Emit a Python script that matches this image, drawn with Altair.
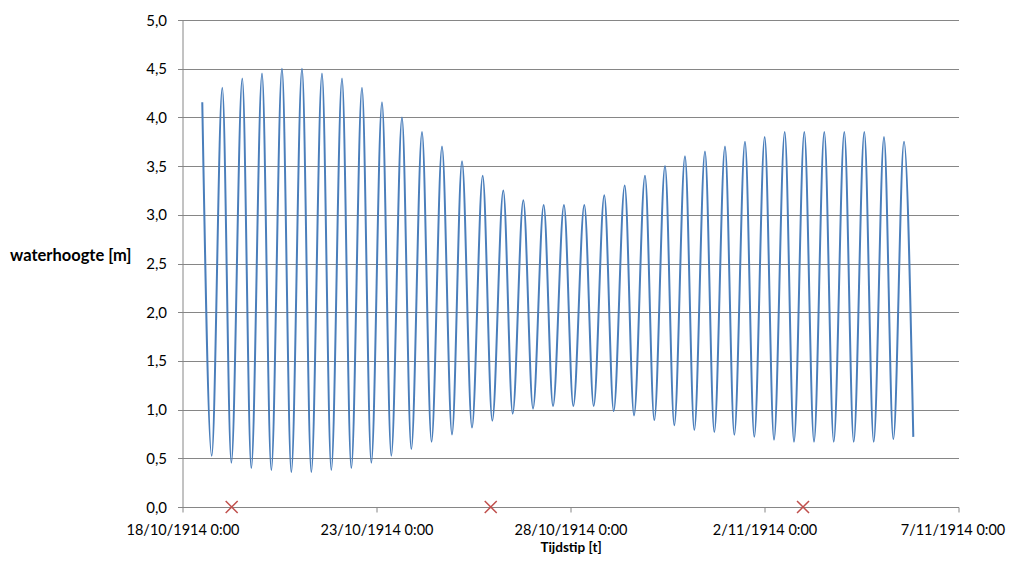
import altair as alt
import pandas as pd

# ---- data ----
base_date = "1914-10-18"

# high-water times (days after 18/10/1914 0:00) and levels [m]
peak_days = [0.510, 1.026, 1.541, 2.049, 2.564, 3.080, 3.595, 4.111, 4.626, 5.142,
             5.657, 6.173, 6.688, 7.204, 7.737, 8.268, 8.784, 9.309, 9.832, 10.356,
             10.871, 11.397, 11.920, 12.436, 12.951, 13.466, 13.982, 14.497, 15.005, 15.521,
             16.026, 16.541, 17.057, 17.572, 18.080, 18.595]
peak_levels = [4.155, 4.305, 4.40, 4.45, 4.50, 4.50, 4.45, 4.40, 4.305, 4.155,
               4.00, 3.85, 3.70, 3.55, 3.40, 3.25, 3.15, 3.10, 3.10, 3.10,
               3.20, 3.30, 3.40, 3.50, 3.60, 3.65, 3.70, 3.75, 3.80, 3.85,
               3.85, 3.85, 3.85, 3.85, 3.80, 3.75]

# low-water times (days after 18/10/1914 0:00) and levels [m]
trough_days = [0.753, 1.258, 1.773, 2.289, 2.804, 3.320, 3.835, 4.351, 4.866, 5.381,
               5.897, 6.418, 6.946, 7.461, 7.985, 8.510, 9.034, 9.549, 10.072, 10.598,
               11.113, 11.637, 12.160, 12.675, 13.191, 13.706, 14.222, 14.737, 15.245, 15.760,
               16.276, 16.784, 17.299, 17.814, 18.320, 18.835]
trough_levels = [0.527, 0.455, 0.40, 0.38, 0.36, 0.36, 0.38, 0.40, 0.455, 0.527,
                 0.595, 0.67, 0.745, 0.815, 0.886, 0.958, 1.01, 1.037, 1.037, 1.037,
                 0.985, 0.94, 0.893, 0.84, 0.79, 0.77, 0.742, 0.72, 0.69, 0.67,
                 0.67, 0.67, 0.67, 0.67, 0.695, 0.72]

# red cross markers on the time axis
marker_times = ["1914-10-19T06:25:00", "1914-10-25T22:40:00", "1914-11-02T23:50:00"]
marker_levels = [0.0, 0.0, 0.0]

y_ticks = [0.0, 0.5, 1.0, 1.5, 2.0, 2.5, 3.0, 3.5, 4.0, 4.5, 5.0]
x_tick_dates = [(1914, 10, 18), (1914, 10, 23), (1914, 10, 28), (1914, 11, 2), (1914, 11, 7)]

# ---- build tables ----
rows = []
for pd_, pl, td, tl in zip(peak_days, peak_levels, trough_days, trough_levels):
    rows.append((pd_, pl))
    rows.append((td, tl))
base = pd.Timestamp(base_date)
tide = pd.DataFrame({
    "t": [(base + pd.to_timedelta(d, unit="D")).round("min").strftime("%Y-%m-%dT%H:%M:%S") for d, _ in rows],
    "h": [v for _, v in rows],
})
marks = pd.DataFrame({"t": marker_times, "h": marker_levels})

tick_values = [alt.DateTime(year=y, month=m, date=d) for y, m, d in x_tick_dates]

grey = "#868686"
x_enc = alt.X(
    "t:T",
    scale=alt.Scale(domain=[tick_values[0], tick_values[-1]]),
    axis=alt.Axis(
        values=tick_values,
        format="%-d/%m/%Y %-H:%M",
        title="Tijdstip [t]",
        grid=False,
        labelFlush=False,
        labelOverlap=False,
        labelFontSize=14.5,
        labelPadding=11,
        labelOffset={"condition": {"test": "datum.value > datetime(1914, 10, 6)", "value": -6},
                     "value": 0},
        tickSize=5,
        titleFontSize=13.5,
        titleFontWeight="bold",
        titleBaseline="alphabetic",
        titleY=44,
    ),
)
y_enc = alt.Y(
    "h:Q",
    scale=alt.Scale(domain=[0, 5], nice=False, zero=True),
    axis=alt.Axis(
        values=y_ticks,
        labelExpr="replace(format(datum.value, '.1f'), '.', ',')",
        title="waterhoogte [m]",
        titleAngle=0,
        titleAlign="left",
        titleBaseline="middle",
        titleX=-173,
        titleY=235,
        titleFontSize=16.5,
        titleFontWeight="bold",
        labelFontSize=15,
        labelPadding=11,
        tickSize=5,
        grid=True,
    ),
)

line = alt.Chart(tide).mark_line(
    interpolate="monotone", color="#4A7EBB", strokeWidth=2
).encode(x=x_enc, y=y_enc)

crosses = alt.Chart(marks).mark_point(
    shape="M-1,-1L1,1M-1,1L1,-1",
    size=144,
    filled=False,
    stroke="#C0504D",
    strokeWidth=1.5,
    opacity=1,
).encode(x=x_enc, y=y_enc)

chart = (
    alt.layer(line, crosses)
    .properties(
        width=776,
        height=487,
        autosize=alt.AutoSizeParams(type="none"),
        padding={"left": 174.5, "top": 12, "right": 47, "bottom": 47},
    )
    .configure(font="Lato")
    .configure_view(strokeWidth=0)
    .configure_axis(
        domainColor=grey,
        tickColor=grey,
        gridColor=grey,
        gridWidth=1,
        domainWidth=1,
        labelColor="#000000",
        titleColor="#000000",
        labelFont="Lato",
        titleFont="Lato",
    )
)

chart.save("out.html", embed_options={"renderer": "svg", "actions": False})
